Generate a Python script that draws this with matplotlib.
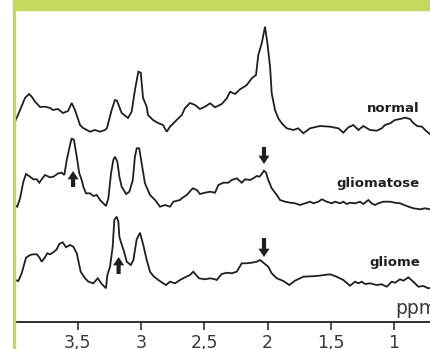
import numpy as np
import matplotlib
matplotlib.use("Agg")
import matplotlib.pyplot as plt
from matplotlib.patches import Rectangle

# chemical shift (ppm) and intensity (a.u.)
normal_ppm = [3.996, 3.956, 3.917, 3.885, 3.864, 3.838, 3.812, 3.798, 3.759, 3.719, 3.696, 3.656,
              3.617, 3.577, 3.548, 3.522, 3.482, 3.458, 3.403, 3.364, 3.324, 3.285, 3.269, 3.232,
              3.206, 3.190, 3.153, 3.103, 3.074, 3.048, 3.021, 3.002, 2.984, 2.955, 2.945, 2.905,
              2.866, 2.826, 2.797, 2.771, 2.718, 2.678, 2.652, 2.613, 2.573, 2.534, 2.494, 2.454,
              2.415, 2.362, 2.322, 2.296, 2.257, 2.217, 2.164, 2.125, 2.091, 2.073, 2.046, 2.020,
              2.001, 1.980, 1.967, 1.941, 1.915, 1.888, 1.848, 1.796, 1.757, 1.717, 1.664, 1.585,
              1.506, 1.440, 1.401, 1.361, 1.322, 1.282, 1.243, 1.190, 1.137, 1.097, 1.071, 1.032,
              0.992, 0.953, 0.913, 0.874, 0.850, 0.818, 0.779, 0.755, 0.716]
normal_int = [0.3, 12, 24, 28, 25.3, 20.3, 17, 15, 15.3, 14, 12, 13,
              9, 11, 19, 12, -3, -6, -9.7, -8, -9.7, -8, -6, 12,
              22, 21.3, 9, 4, 10.3, 32, 50.3, 49.3, 24, 15.3, 7, 2,
              -1, -3, -9.7, -4.7, 2, 7, 14, 19, 17, 13, 15.3, 18.7,
              14.7, 18, 23.7, 30.3, 28, 32.7, 37, 43.7, 47, 67, 78.7, 95.3,
              78.7, 55.3, 28.7, 12, 3.7, -1.3, -6.3, -8, -6.3, -11.3, -6.3, -4,
              -4.7, -6.3, -10.7, -5.3, -3, -8, -4, -8, -8.7, -6.3, -3, -1.3,
              2, 3, 4.3, 3, -0.7, -4, -4.7, -8, -12]

gliomatose_ppm = [3.996, 3.978, 3.956, 3.930, 3.909, 3.877, 3.851, 3.824, 3.804, 3.785, 3.759, 3.719,
                  3.693, 3.654, 3.627, 3.606, 3.587, 3.561, 3.548, 3.530, 3.508, 3.488, 3.469, 3.456,
                  3.435, 3.403, 3.377, 3.350, 3.324, 3.277, 3.258, 3.237, 3.219, 3.206, 3.187, 3.171,
                  3.153, 3.118, 3.092, 3.065, 3.048, 3.034, 3.014, 2.995, 2.969, 2.929, 2.889, 2.850,
                  2.810, 2.771, 2.744, 2.692, 2.678, 2.639, 2.591, 2.559, 2.534, 2.494, 2.454, 2.415,
                  2.389, 2.349, 2.310, 2.283, 2.243, 2.204, 2.178, 2.138, 2.112, 2.085, 2.064, 2.046,
                  2.028, 2.012, 1.994, 1.967, 1.927, 1.901, 1.861, 1.822, 1.782, 1.743, 1.703, 1.664,
                  1.638, 1.598, 1.571, 1.532, 1.492, 1.466, 1.427, 1.401, 1.374, 1.348, 1.308, 1.269,
                  1.243, 1.203, 1.177, 1.150, 1.124, 1.085, 1.032, 0.992, 0.953, 0.900, 0.848, 0.795,
                  0.755, 0.716]
gliomatose_int = [-3, -4.7, 3.7, 20.3, 28, 25.3, 22.7, 22.7, 19.3, 22.7, 27, 24.7,
                  25.3, 28.7, 29.3, 27, 42, 57, 63.7, 62, 45.3, 28.7, 22, 15.3,
                  8.7, 8.7, 6, 7, 2, -4, 3.7, 28.7, 42, 45.3, 40.3, 25.3,
                  15.3, 8, 10.3, 22, 45.3, 53.7, 53.7, 38.7, 18.7, 7, 2, -4.7,
                  -3, -4.7, 0.3, 2, 3.7, 7, 13.7, 12, 8, 9.3, 10.3, 9.3,
                  17, 19.3, 19.3, 22, 23.7, 19.3, 22.7, 22, 23.7, 26, 25.3, 28,
                  31.3, 29.3, 22, 13.7, 7, 2, 0.3, -0.7, -1.3, -3, -1.3, 0.3,
                  -1.3, 0.3, 2.7, 0.3, -1.3, 0.3, -1.3, 0.3, -2, -0.7, -1.3, 0.3,
                  -2, 2, -1.3, -3, -1.3, 0.3, 0.3, -0.7, -1.3, -4, -6.3, -7.3,
                  -6.3, -7.3]

gliome_ppm = [3.996, 3.970, 3.943, 3.909, 3.877, 3.851, 3.824, 3.804, 3.785, 3.759, 3.741, 3.719,
              3.693, 3.666, 3.646, 3.619, 3.593, 3.561, 3.535, 3.508, 3.477, 3.442, 3.416, 3.377,
              3.342, 3.310, 3.277, 3.266, 3.245, 3.224, 3.211, 3.192, 3.179, 3.171, 3.160, 3.134,
              3.113, 3.081, 3.060, 3.048, 3.034, 3.008, 2.982, 2.955, 2.929, 2.903, 2.863, 2.824,
              2.802, 2.771, 2.731, 2.692, 2.652, 2.613, 2.587, 2.542, 2.494, 2.454, 2.415, 2.402,
              2.362, 2.322, 2.283, 2.243, 2.204, 2.164, 2.125, 2.085, 2.059, 2.033, 1.994, 1.967,
              1.927, 1.875, 1.828, 1.783, 1.717, 1.612, 1.506, 1.454, 1.401, 1.348, 1.308, 1.282,
              1.256, 1.229, 1.190, 1.137, 1.098, 1.058, 1.018, 0.992, 0.953, 0.926, 0.887, 0.848,
              0.808, 0.768, 0.729, 0.708]
gliome_int = [2, 1, 8.7, 24.3, 27, 27.7, 27.7, 24.7, 20.3, 24.7, 28.7, 27.7,
              29.7, 32.7, 38, 39.7, 34.7, 37, 35.3, 28.7, 10.3, 3.7, 0.3, -1.3,
              3.7, -2, -6.3, 7, 15.3, 35.3, 62, 65.3, 60.3, 45.3, 40.3, 30.3,
              20.3, 17, 22, 32, 42.7, 49.3, 37, 22, 10.3, 6, 2, -1.3,
              -3, 0.3, -1.3, 2, 4.7, 7, 10.3, 3.7, 2.7, 3.7, 2.7, 2,
              8, 9.3, 8.7, 10.3, 18.7, 18.7, 19.3, 20.3, 22, 19.3, 15.3, 8.7,
              3.7, 1, -3, 1.3, 5.3, 6, 7.7, 5.3, 2, -3.7, 0.3, -1.3,
              0.3, -2, -1.3, -3, -2.3, -4.7, 0.3, -0.7, 2.7, 1.3, 4.7, 0.3,
              -4.7, -4, -6.3, -5.7]

names = ["normal", "gliomatose", "gliome"]
offsets = [200, 120, 40]
label_y = [210, 135, 56]

# arrows: (ppm, tail, tip) in the same units as the offset spectra
down_arrows = [(2.028, 175, 158), (2.028, 84, 65)]
up_arrows = [(3.537, 135, 151), (3.177, 48, 65)]

tick_pos = [3.5, 3, 2.5, 2, 1.5, 1]
tick_lbl = ["3,5", "3", "2,5", "2", "1,5", "1"]

ink = "#231f20"
green = "#c5d95e"

fig = plt.figure(figsize=(4.31, 3.49), dpi=100)
W, H = 431, 349
# green header band and left rule
fig.patches.append(Rectangle((13 / W, 1 - 10 / H), 1, 10 / H, transform=fig.transFigure,
                             color=green, zorder=0))
fig.patches.append(Rectangle((13 / W, 0), 2.2 / W, 1, transform=fig.transFigure,
                             color=green, zorder=0))

ax = fig.add_axes([15 / W, 27 / H, 1 - 15 / W, 312 / H])
ax.patch.set_alpha(0)

spectra = [(normal_ppm, normal_int), (gliomatose_ppm, gliomatose_int), (gliome_ppm, gliome_int)]
for (x, y), off, name, ly in zip(spectra, offsets, names, label_y):
    ax.plot(x, np.array(y) + off, color=ink, lw=1.3, solid_joinstyle="miter")
    ax.text(0.795, ly, name, ha="right", va="baseline", fontsize=9.5,
            fontweight="bold", color=ink)

arrow_style = dict(arrowstyle="simple,head_width=0.8,head_length=0.6,tail_width=0.3",
                   color=ink, lw=0, shrinkA=0, shrinkB=0)
for xp, tail, tip in down_arrows + up_arrows:
    ax.annotate("", xy=(xp, tip), xytext=(xp, tail), arrowprops=arrow_style)

ax.set_xlim(3.996, 0.708)
ax.set_ylim(0, 312)
ax.set_xticks(tick_pos)
ax.set_xticklabels(tick_lbl, fontsize=12.5, color="#3a3a3a")
ax.tick_params(axis="x", direction="out", length=5.5, width=1.1, color=ink, pad=3)
ax.set_yticks([])
for s in ["top", "left", "right"]:
    ax.spines[s].set_visible(False)
ax.spines["bottom"].set_linewidth(1.3)
ax.spines["bottom"].set_color(ink)
ax.text(0.992, 8, "ppm", ha="left", va="baseline", fontsize=13.5, color="#3a3a3a")

fig.savefig("out.png", dpi=100)
